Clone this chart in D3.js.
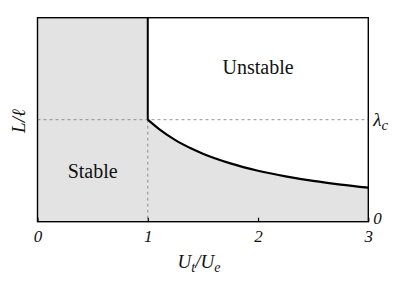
<!DOCTYPE html>
<html>
  <head>
    <meta charset="utf-8" />
    <title>stability diagram</title>
    <script src="https://cdn.jsdelivr.net/npm/d3@7"></script>
    <style type="text/css">
      body { margin: 0; background: #fff; }
    </style>
  </head>
  <body>
    <svg id="chart" width="418" height="283"></svg>
    <script type="text/javascript">
      // values
      var ratio = [1, 1.1, 1.25, 1.4, 1.5, 1.75, 2, 2.25, 2.5, 2.75, 3]; // U_t/U_e
      var boundary = [1, 0.91, 0.8, 0.715, 0.667, 0.572, 0.5, 0.445, 0.4, 0.364, 0.334]; // L/l
      var xTicks = [0, 1, 2, 3];
      var xTickLabels = ['0', '1', '2', '3'];
      var lambdaC = 1;
      var yMax = 2;
      var regions = [
        { name: 'Unstable', x: 2, y: 1.45 },
        { name: 'Stable', x: 0.5, y: 0.43 }
      ];

      var FONT = '"Liberation Serif"';

      var svg = d3.select('#chart');

      var x = d3.scaleLinear().domain([0, 3]).range([37.5, 368.3]),
        y = d3.scaleLinear().domain([0, yMax]).range([221.7, 17.7]);

      // shaded stable area
      svg.append('rect')
        .attr('x', x(0)).attr('y', y(yMax))
        .attr('width', x(1) - x(0)).attr('height', y(0) - y(yMax))
        .attr('fill', '#e3e3e3');

      var pts = ratio.map((r, i) => [r, boundary[i]]);

      svg.append('path')
        .datum(pts)
        .attr('fill', '#e3e3e3')
        .attr('d', d3.area().x((d) => x(d[0])).y0(y(0)).y1((d) => y(d[1])).curve(d3.curveMonotoneX));

      // dashed guides
      svg.append('line')
        .attr('x1', x(0)).attr('x2', x(3))
        .attr('y1', y(lambdaC)).attr('y2', y(lambdaC))
        .attr('stroke', '#777').attr('stroke-width', 0.8).attr('stroke-dasharray', '3,3');
      svg.append('line')
        .attr('x1', x(1)).attr('x2', x(1))
        .attr('y1', y(lambdaC)).attr('y2', y(0))
        .attr('stroke', '#777').attr('stroke-width', 0.8).attr('stroke-dasharray', '3,3');

      // axes
      var bottom = svg.append('g')
        .attr('transform', 'translate(0,' + y(0) + ')')
        .call(d3.axisBottom(x).tickValues(xTicks).tickSize(-4)
          .tickFormat((d, i) => xTickLabels[i]));
      bottom.select('.domain').remove();
      bottom.selectAll('line').attr('stroke', '#000').attr('stroke-width', 1.2);
      bottom.selectAll('text')
        .attr('y', 20).attr('dy', 0)
        .attr('fill', '#111')
        .style('font-family', FONT)
        .style('font-size', '17px').style('font-style', 'italic');

      var right = svg.append('g')
        .attr('transform', 'translate(' + x(3) + ',0)')
        .call(d3.axisRight(y).tickValues([0, lambdaC]).tickSize(0).tickPadding(5)
          .tickFormat((d) => (d === 0 ? '0' : '')));
      right.select('.domain').remove();
      right.selectAll('text')
        .attr('fill', '#111')
        .style('font-family', FONT)
        .style('font-size', '17px').style('font-style', 'italic');
      right.selectAll('.tick').filter((d) => d === 0).select('text').attr('dy', '0.1em');
      var lam = right.selectAll('.tick').filter((d) => d === lambdaC).select('text')
        .attr('dy', '0.3em').style('font-size', '19px');
      lam.append('tspan').text('λ');
      lam.append('tspan').text('c').attr('dy', 4).style('font-size', '15px');

      // frame
      svg.append('rect')
        .attr('x', x(0)).attr('y', y(yMax))
        .attr('width', x(3) - x(0)).attr('height', y(0) - y(yMax))
        .attr('fill', 'none').attr('stroke', '#000').attr('stroke-width', 1.4);

      // critical line and boundary curve
      svg.append('line')
        .attr('x1', x(1)).attr('x2', x(1))
        .attr('y1', y(yMax)).attr('y2', y(lambdaC))
        .attr('stroke', '#000').attr('stroke-width', 2);

      svg.append('path')
        .datum(pts)
        .attr('fill', 'none').attr('stroke', '#000').attr('stroke-width', 2.2)
        .attr('d', d3.line().x((d) => x(d[0])).y((d) => y(d[1])).curve(d3.curveMonotoneX));

      // region labels
      svg.selectAll('text.region')
        .data(regions)
        .enter()
        .append('text')
        .attr('class', 'region')
        .attr('x', (d) => x(d.x))
        .attr('y', (d) => y(d.y))
        .attr('text-anchor', 'middle')
        .attr('fill', '#111')
        .style('font-family', FONT)
        .style('font-size', '20px')
        .text((d) => d.name);

      // axis titles
      var xt = svg.append('text')
        .attr('x', 199).attr('y', 268)
        .attr('text-anchor', 'middle')
        .attr('fill', '#111')
        .style('font-family', FONT)
        .style('font-size', '19px').style('font-style', 'italic');
      xt.append('tspan').text('U');
      xt.append('tspan').text('t').style('font-size', '14px').attr('dy', 4);
      xt.append('tspan').text('/U').attr('dy', -4);
      xt.append('tspan').text('e').style('font-size', '14px').attr('dy', 4);

      svg.append('text')
        .attr('transform', 'translate(25,121) rotate(-90)')
        .attr('text-anchor', 'middle')
        .attr('fill', '#111')
        .style('font-family', FONT)
        .style('font-size', '19px').style('font-style', 'italic')
        .text('L/ℓ');
    </script>
  </body>
</html>
